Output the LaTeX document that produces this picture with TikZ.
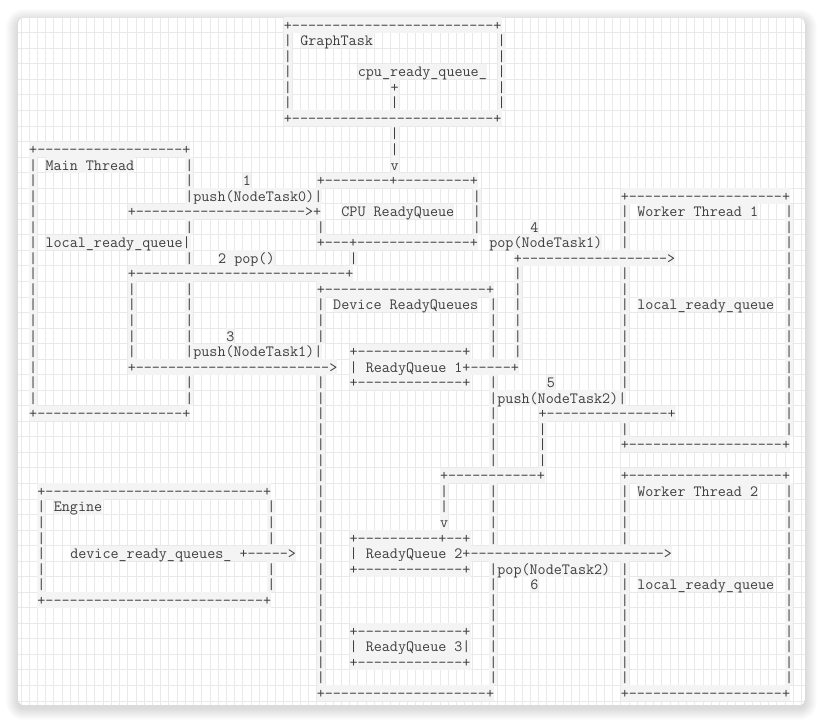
\documentclass[tikz,border=0pt]{standalone}
\usepackage{fontspec}
\ExplSyntaxOn
\newcommand\dsh[1]{\prg_replicate:nn{#1}{-\kern0pt}}
\ExplSyntaxOff
\definecolor{ink}{RGB}{62,62,62}
\definecolor{cellbg}{RGB}{244,244,244}
\definecolor{gridc}{RGB}{233,233,233}
\newcounter{tn}
\tikzset{
  txt/.style={font=\fontsize{15.65pt}{16pt}\selectfont\ttfamily, text=ink, fill=cellbg,
    anchor=base west, inner sep=0pt, outer sep=0pt, text height=12.97pt, text depth=2.57pt},
  gridline/.style={draw=gridc, line width=0.9pt}
}
% #1 = column, #2 = row, #3 = text
\newcommand\T[3]{\stepcounter{tn}\node[txt] (t\the\value{tn}) at ({33.3+8.217*(#1-0.5)},{30.2+15.54*(#2)}) {#3};}
\newcommand\V[2]{\foreach \r in {#2}{\T{#1}{\r}{|}}}
\begin{document}
\begin{tikzpicture}[x=1pt,y=-1pt]
\useasboundingbox (0,0) rectangle (823,723);
\fill[white] (0,0) rectangle (823,723);
% card shadow
\foreach \i in {1,...,12}{
  \fill[black,opacity=0.011,rounded corners={6+\i}] ({18-\i},{18-\i+3}) rectangle ({805+\i},{705+\i+3});
}
% card + grid
\begin{scope}
\clip[rounded corners=6] (18,18) rectangle (805,705);
\fill[white] (18,18) rectangle (805,705);
\foreach \c in {-2,...,97}{\draw[gridline] ({33.3+8.217*(\c-0.5)},18) -- ({33.3+8.217*(\c-0.5)},705);}
\foreach \r in {-1,...,45}{\draw[gridline] (18,{25+15.54*(\r-0.5)}) -- (805,{25+15.54*(\r-0.5)});}
\end{scope}

% ---------- GraphTask ----------
\T{31}{0}{+\dsh{25}+}
\T{33}{1}{GraphTask}
\T{40}{3}{cpu\_ready\_queue\_}
\T{44}{4}{+}
\T{31}{6}{+\dsh{25}+}
\V{31}{1,...,5}
\V{57}{1,...,5}
\V{44}{5,7,8}
\T{44}{9}{v}

% ---------- Main Thread ----------
\T{0}{8}{+\dsh{18}+}
\T{2}{9}{Main Thread}
\T{26}{10}{1}
\T{19}{11}{|push(NodeTask0)|}
\T{12}{12}{+\dsh{21}>+}
\T{2}{14}{local\_ready\_queue|}
\T{23}{15}{2 pop()}
\T{12}{16}{+\dsh{26}+}
\T{24}{20}{3}
\T{19}{21}{|push(NodeTask1)|}
\T{12}{22}{+\dsh{24}>}
\T{0}{25}{+\dsh{18}+}
\V{0}{9,...,24}
\V{19}{9,10,13,15,17,18,19,20,23,24}
\V{12}{17,...,21}

% ---------- CPU ReadyQueue ----------
\T{35}{10}{+\dsh{8}+\dsh{9}+}
\T{38}{12}{CPU ReadyQueue}
\T{35}{14}{+\dsh{3}+\dsh{14}+}
\V{35}{13}
\V{54}{11,12,13}
\V{39}{15}
\T{61}{13}{4}
\T{56}{14}{pop(NodeTask1)}
\T{59}{15}{+\dsh{18}>}
\V{59}{16,...,21}

% ---------- Device ReadyQueues ----------
\T{35}{17}{+\dsh{20}+}
\T{37}{18}{Device ReadyQueues}
\V{35}{18,...,20}
\V{35}{23,...,42}
\V{56}{18,...,21}
\V{56}{23}
\V{56}{25,...,28}
\V{56}{30,...,33}
\V{56}{36,...,42}
\T{35}{43}{+\dsh{20}+}
% ReadyQueue 1
\T{39}{21}{+\dsh{13}+}
\T{39}{22}{| ReadyQueue 1+\dsh{5}+}
\T{39}{23}{+\dsh{13}+}
% push(NodeTask2)
\T{63}{23}{5}
\T{56}{24}{|push(NodeTask2)|}
\T{62}{25}{+\dsh{15}+}
\V{62}{26,27,28}
\T{50}{29}{+\dsh{11}+}
\V{50}{30,31}
\T{50}{32}{v}
% ReadyQueue 2
\T{39}{33}{+\dsh{10}+\dsh{2}+}
\T{39}{34}{| ReadyQueue 2+\dsh{24}>}
\T{39}{35}{+\dsh{13}+}
\T{56}{35}{|pop(NodeTask2)}
\T{61}{36}{6}
% ReadyQueue 3
\T{39}{39}{+\dsh{13}+}
\T{39}{40}{| ReadyQueue 3|}
\T{39}{41}{+\dsh{13}+}

% ---------- Worker Thread 1 ----------
\T{72}{11}{+\dsh{19}+}
\T{74}{12}{Worker Thread 1}
\T{74}{18}{local\_ready\_queue}
\T{72}{27}{+\dsh{19}+}
\V{72}{12,13,14}
\V{72}{16,...,23}
\V{72}{26}
\V{92}{12,...,26}

% ---------- Worker Thread 2 ----------
\T{72}{29}{+\dsh{19}+}
\T{74}{30}{Worker Thread 2}
\T{74}{36}{local\_ready\_queue}
\T{72}{43}{+\dsh{19}+}
\V{72}{30,...,33}
\V{72}{35,...,42}
\V{92}{30,...,42}

% ---------- Engine ----------
\T{1}{30}{+\dsh{27}+}
\T{3}{31}{Engine}
\T{5}{34}{device\_ready\_queues\_ +\dsh{5}>}
\T{1}{37}{+\dsh{27}+}
\V{1}{31,...,36}
\V{29}{31,32,33,35,36}
\end{tikzpicture}
\end{document}
